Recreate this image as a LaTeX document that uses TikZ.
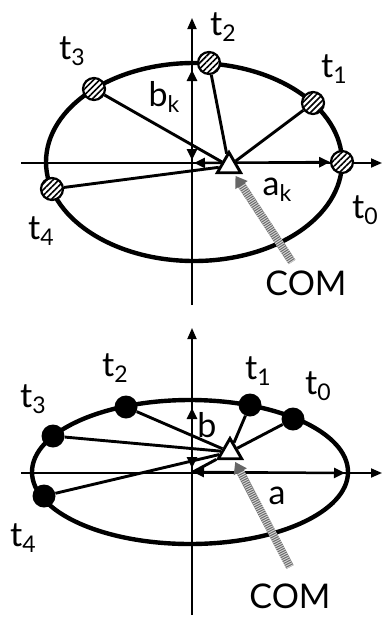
\documentclass[tikz,border=0pt]{standalone}
\usepackage{fontspec}
\setmainfont{Lato}
\usetikzlibrary{arrows.meta,shapes.geometric,patterns.meta}
\newcommand{\tsub}[2]{#1\raisebox{-6pt}{\fontsize{23}{23}\selectfont #2}}
\tikzset{
  lbl/.style     = {font=\fontsize{34}{36}\selectfont, inner sep=0pt},
  axis/.style    = {-{Triangle[length=11pt,width=9pt]}, line width=1.8pt},
  orbit/.style   = {line width=4.4pt},
  spoke/.style   = {line width=2.9pt},
  dimar/.style   = {{Triangle[length=11pt,width=10pt]}-{Triangle[length=11pt,width=10pt]}, line width=2.5pt},
  hatchpt/.style = {circle, draw, line width=2.2pt, minimum size=22pt, inner sep=0pt,
                    preaction={fill=white}, pattern={Lines[angle=45,distance=4.2pt,line width=1.6pt]}},
  solidpt/.style = {circle, fill=black, minimum size=23pt, inner sep=0pt},
  com/.style     = {regular polygon, regular polygon sides=3, draw, line width=2.9pt,
                    fill=white, minimum size=27pt, inner sep=0pt},
  comar/.style   = {line width=8pt, draw=black!60, -{Triangle[length=11pt,width=14pt]}, shorten >=2pt},
  comhatch/.style = {line width=8pt, draw=gray!35, dash pattern=on 1pt off 1.2pt, shorten >=13pt}
}
\begin{document}
\begin{tikzpicture}[x=1pt,y=-1pt]
    \useasboundingbox (0,0) rectangle (385,619);
    % top: hatched points
    \coordinate (xl1) at (21,163);  \coordinate (xr1) at (382,163);
    \coordinate (yb1) at (192,305); \coordinate (yt1) at (192,18);
    \draw[axis] (xl1) -- (xr1); \draw[axis] (yb1) -- (yt1);
    \draw[orbit] (194,162) ellipse [x radius=148, y radius=99];
    \node[hatchpt] (p0) at (342,162) {};
    \node[hatchpt] (p1) at (313,103) {};
    \node[hatchpt] (p2) at (209,63) {};
    \node[hatchpt] (p3) at (94,89) {};
    \node[hatchpt] (p4) at (52,189) {};
    \coordinate (ak1) at (194,163);
    \coordinate (bk1) at (192,160); \coordinate (bt1) at (192,70);
    \draw[dimar] (ak1) -- (p0);
    \draw[dimar] (bk1) -- (bt1);
    \node[com] (c1) at (229,166) {};
    \draw[spoke] (p1) -- (c1); \draw[spoke] (p2) -- (c1);
    \draw[spoke] (p3) -- (c1); \draw[spoke] (p4) -- (c1);
    \coordinate (ct1) at (292,262);
    \draw[comar] (ct1) -- (c1); \draw[comhatch] (ct1) -- (c1);
    \node[lbl] (l0) at (365,210) {\tsub{t}{0}};
    \node[lbl] (l1) at (334,69) {\tsub{t}{1}};
    \node[lbl] (l2) at (223,27) {\tsub{t}{2}};
    \node[lbl] (l3) at (72,51) {\tsub{t}{3}};
    \node[lbl] (l4) at (41,231) {\tsub{t}{4}};
    \node[lbl] (lb1) at (164,97) {\tsub{b}{k}};
    \node[lbl] (la1) at (277,190) {\tsub{a}{k}};
    \node[lbl] (lc1) at (306,283) {COM};
    % bottom: solid points
    \coordinate (xl2) at (21,473);  \coordinate (xr2) at (382,473);
    \coordinate (yb2) at (192,615); \coordinate (yt2) at (192,328);
    \draw[axis] (xl2) -- (xr2); \draw[axis] (yb2) -- (yt2);
    \draw[orbit] (190,472) ellipse [x radius=158, y radius=72];
    \node[solidpt] (q0) at (293,419) {};
    \node[solidpt] (q1) at (250,405) {};
    \node[solidpt] (q2) at (126,407) {};
    \node[solidpt] (q3) at (53,436) {};
    \node[solidpt] (q4) at (44,496) {};
    \coordinate (o2) at (193,472);
    \coordinate (ae2) at (345,473);
    \coordinate (bk2) at (192,468); \coordinate (bt2) at (192,408);
    \draw[dimar] (o2) -- (ae2);
    \draw[dimar] (bk2) -- (bt2);
    \node[com] (c2) at (230,452) {};
    \draw[spoke] (q0) -- (c2); \draw[spoke] (q1) -- (c2);
    \draw[spoke] (q2) -- (c2); \draw[spoke] (q3) -- (c2);
    \draw[spoke] (q4) -- (c2); \draw[spoke] (o2) -- (c2);
    \coordinate (ct2) at (290,567);
    \draw[comar] (ct2) -- (c2); \draw[comhatch] (ct2) -- (c2);
    \node[lbl] (m0) at (318,386) {\tsub{t}{0}};
    \node[lbl] (m1) at (258,371) {\tsub{t}{1}};
    \node[lbl] (m2) at (115,368) {\tsub{t}{2}};
    \node[lbl] (m3) at (33,399) {\tsub{t}{3}};
    \node[lbl] (m4) at (23,538) {\tsub{t}{4}};
    \node[lbl] (lb2) at (207,425) {b};
    \node[lbl] (la2) at (277,496) {a};
    \node[lbl] (lc2) at (290,596) {COM};
\end{tikzpicture}
\end{document}
